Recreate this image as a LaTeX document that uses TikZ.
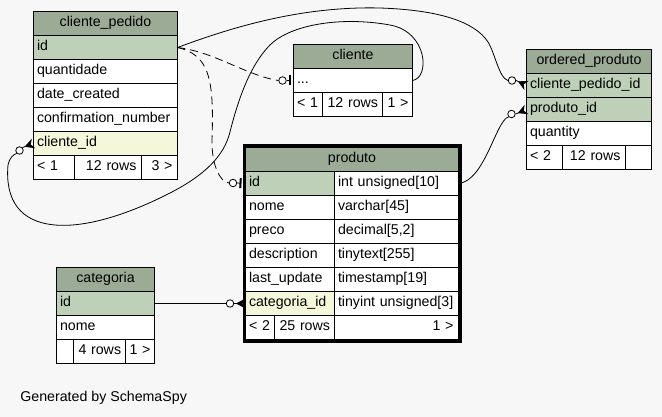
\documentclass[tikz,border=0pt]{standalone}
\usepackage{fontspec}
\setmainfont{Liberation Sans}
\usetikzlibrary{arrows.meta}
\definecolor{headgreen}{HTML}{9BAB96}
\definecolor{keygreen}{HTML}{BED1B8}
\definecolor{fkyellow}{HTML}{F4F7DA}
\definecolor{canvas}{HTML}{F7F7F7}
\newcommand{\tabfont}{\fontsize{14.2}{17}\selectfont}
\hyphenpenalty=10000
\tikzset{
  cell/.style={draw, fill=white, anchor=north west, outer sep=0pt,
    inner ysep=0pt, minimum height=24pt, text height=10pt, text depth=4pt,
    font=\tabfont},
  lcell/.style={cell, inner xsep=3.5pt, text width=#1, align=left},
  rcell/.style={cell, inner xsep=5pt, text width=#1, align=right},
  headcell/.style={cell, fill=headgreen, inner xsep=0pt, text width=#1, align=center},
  odot/.style={circle, draw, fill=white, inner sep=0pt, minimum size=7.5pt, line width=0.8pt},
  link/.style={line width=0.8pt},
  implied/.style={link, dash pattern=on 8pt off 5pt},
  crowfoot/.style={link, -{Stealth[reversed, length=9.5pt, width=10pt, inset=3pt]}},
  teebar/.style={link, -{Bar[width=10pt, line width=2pt]}, shorten >=2.5pt}
}

\begin{document}
\begin{tikzpicture}[x=1pt, y=-1pt, line width=1pt]
  \fill[canvas] (0,0) rectangle (662,417);
  \useasboundingbox (0,0) rectangle (662,417);

  % cliente_pedido
  \node[headcell=144pt] (cp-title) at (33.5,11.5) {cliente\_pedido};
  \node[lcell=137pt, fill=keygreen] (cp-id) at (33.5,35.5) {id};
  \node[lcell=137pt] (cp-qtd) at (33.5,59.5) {quantidade};
  \node[lcell=137pt] (cp-date) at (33.5,83.5) {date\_created};
  \node[lcell=137pt] (cp-conf) at (33.5,107.5) {confirmation\_number};
  \node[lcell=137pt, fill=fkyellow] (cp-clid) at (33.5,131.5) {cliente\_id};
  \node[lcell=34pt] (cp-f1) at (33.5,155.5) {<~1};
  \node[rcell=57pt] (cp-f2) at (74.5,155.5) {12~rows};
  \node[rcell=26pt] (cp-f3) at (141.5,155.5) {3~>};

  % cliente
  \node[headcell=119pt] (cl-title) at (293.5,44.5) {cliente};
  \node[lcell=112pt] (cl-dots) at (293.5,68.5) {...};
  \node[lcell=22pt] (cl-f1) at (293.5,92.5) {<~1};
  \node[rcell=50pt] (cl-f2) at (322.5,92.5) {12~rows};
  \node[rcell=20pt] (cl-f3) at (382.5,92.5) {1~>};

  % produto
  \node[headcell=213pt] (pr-title) at (245.5,147.5) {produto};
  \node[lcell=82pt, fill=keygreen] (pr-id) at (245.5,171.5) {id};
  \node[lcell=117pt] (pr-idtype) at (334.5,171.5) {int unsigned[10]};
  \node[lcell=82pt] (pr-nome) at (245.5,195.5) {nome};
  \node[lcell=117pt] (pr-nometype) at (334.5,195.5) {varchar[45]};
  \node[lcell=82pt] (pr-preco) at (245.5,219.5) {preco};
  \node[lcell=117pt] (pr-precotype) at (334.5,219.5) {decimal[5,2]};
  \node[lcell=82pt] (pr-desc) at (245.5,243.5) {description};
  \node[lcell=117pt] (pr-desctype) at (334.5,243.5) {tinytext[255]};
  \node[lcell=82pt] (pr-upd) at (245.5,267.5) {last\_update};
  \node[lcell=117pt] (pr-updtype) at (334.5,267.5) {timestamp[19]};
  \node[lcell=82pt, fill=fkyellow] (pr-cat) at (245.5,291.5) {categoria\_id};
  \node[lcell=117pt] (pr-cattype) at (334.5,291.5) {tinyint unsigned[3]};
  \node[lcell=22pt] (pr-f1) at (245.5,315.5) {<~2};
  \node[rcell=50pt] (pr-f2) at (274.5,315.5) {25~rows};
  \node[rcell=114pt] (pr-f3) at (334.5,315.5) {1~>};

  % ordered_produto
  \node[headcell=125pt] (op-title) at (526.5,49.5) {ordered\_produto};
  \node[lcell=118pt, fill=keygreen] (op-cpid) at (526.5,73.5) {cliente\_pedido\_id};
  \node[lcell=118pt, fill=keygreen] (op-prid) at (526.5,97.5) {produto\_id};
  \node[lcell=118pt] (op-qty) at (526.5,121.5) {quantity};
  \node[lcell=29pt] (op-f1) at (526.5,145.5) {<~2};
  \node[rcell=53pt] (op-f2) at (562.5,145.5) {12~rows};
  \node[rcell=16pt] (op-f3) at (625.5,145.5) {};

  % categoria
  \node[headcell=98pt] (ca-title) at (56.5,267.5) {categoria};
  \node[lcell=91pt, fill=keygreen] (ca-id) at (56.5,291.5) {id};
  \node[lcell=91pt] (ca-nome) at (56.5,315.5) {nome};
  \node[rcell=7pt] (ca-f1) at (56.5,339.5) {};
  \node[rcell=42pt] (ca-f2) at (73.5,339.5) {4~rows};
  \node[rcell=21pt, inner xsep=4pt] (ca-f3) at (125.5,339.5) {1~>};

  % relationships
  \node[odot] (o1) at (512,80.5) {};
  \draw[link] (cp-id.east) .. controls (230,28) and (300,6) .. (380,8)
    .. controls (440,10) and (475,22) .. (488,42)
    .. controls (495,53) and (499,78) .. (o1.west);
  \draw[crowfoot] (o1.east) -- (op-cpid.west);

  \node[odot] (o2) at (511.5,114) {};
  \draw[link] (pr-idtype.east) .. controls (485,181) and (496,120) .. (o2.south west);
  \draw[crowfoot] (o2.east) -- (op-prid.west);

  \node[odot] (o3) at (282.5,80.5) {};
  \draw[implied] (cp-id.east) .. controls (215,52) and (245,75) .. (o3.west);
  \draw[teebar] (o3.east) -- (cl-dots.west);

  \node[odot] (o4) at (233,183) {};
  \draw[implied] (cp-id.east) .. controls (210,55) and (214,80) .. (212,140)
    .. controls (211.5,165) and (220,182) .. (o4.west);
  \draw[teebar, shorten >=4pt] (o4.east) -- (pr-id.west);

  \node[odot] (o5) at (19.5,150.5) {};
  \draw[link] (cl-dots.east) .. controls (430,78) and (428,32) .. (390,25)
    .. controls (340,16) and (290,25) .. (270,45)
    .. controls (250,65) and (238,100) .. (230,132)
    .. controls (224,156) and (205,175) .. (170,193)
    .. controls (135,211) and (90,228) .. (55,225)
    .. controls (20,222) and (5,200) .. (8,165)
    .. controls (10,157) and (13,155) .. (o5.south west);
  \draw[crowfoot] (o5.north east) -- (cp-clid.west);

  \node[odot] (o6) at (230,303.5) {};
  \draw[link] (ca-id.east) -- (o6.west);
  \draw[crowfoot] (o6.east) -- (pr-cat.west);

  % thick frame of the selected table
  \draw[line width=3pt] ([shift={(-1.5,-1.5)}]pr-title.north west) rectangle ([shift={(1.5,1.5)}]pr-f3.south east);

  \node[anchor=base west, font=\tabfont] (credit) at (16.5,401.5) {Generated by SchemaSpy};
\end{tikzpicture}
\end{document}
